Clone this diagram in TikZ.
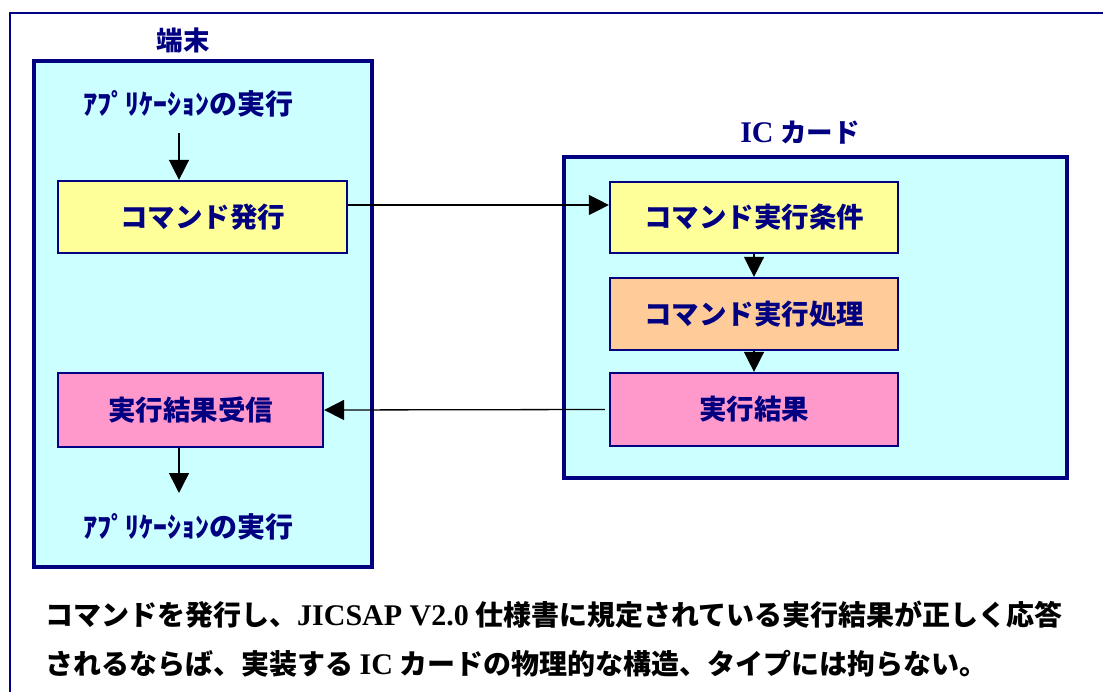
\documentclass[tikz,border=0pt]{standalone}
\usepackage{fontspec}
\setmainfont{Liberation Serif}
\newfontfamily\jp{Noto Sans CJK JP}
\usetikzlibrary{arrows.meta}
\definecolor{navy}{HTML}{000080}
\definecolor{cyanbg}{HTML}{CCFFFF}
\definecolor{yel}{HTML}{FFFF99}
\definecolor{ora}{HTML}{FFCC99}
\definecolor{pnk}{HTML}{FF99CC}
\newcommand{\latn}[1]{{\rmfamily\bfseries\fontsize{30}{30}\selectfont #1}}
\begin{document}
\begin{tikzpicture}[x=1pt,y=-1pt,
  box/.style={draw=navy, line width=2.2pt, text=navy, inner sep=0pt,
    font=\jp\bfseries\fontsize{27.5}{30}\selectfont},
  container/.style={draw=navy, line width=4pt, fill=cyanbg, inner sep=0pt},
  title/.style={text=navy, inner sep=0pt, font=\bfseries\fontsize{26.5}{30}\selectfont},
  app/.style={text=navy, inner sep=0pt, font=\jp\bfseries\fontsize{28}{30}\selectfont},
  note/.style={text=black, inner sep=0pt, anchor=west, font=\jp\bfseries\fontsize{28}{30}\selectfont},
  arr/.style={-{Triangle[length=20pt,width=20pt]}, line width=1.5pt, black}
]
\useasboundingbox (0,0) rectangle (1103,692);
\begin{scope}
\clip (0,0) rectangle (1103,692);
\fill[white] (0,0) rectangle (1103,692);
\draw[navy, line width=2pt] (10,13) rectangle (1130,720);
\end{scope}

% containers
\node[container, minimum width=338pt, minimum height=506pt] (term) at (203,314) {};
\node[container, minimum width=503pt, minimum height=321pt] (card) at (815.5,317.5) {};

% titles
\node[title] (termtitle) at (183,40) {\jp 端末};
\node[title] (cardtitle) at (800,133) {\latn{IC} {\jp カード}};

% application labels
\node[app] (app1) at (188,104) {ｱﾌﾟﾘｹｰｼｮﾝの実行};
\node[app] (app2) at (188,527) {ｱﾌﾟﾘｹｰｼｮﾝの実行};

% terminal boxes
\node[box, fill=yel, minimum width=289pt, minimum height=72pt] (issue) at (202.5,217) {コマンド発行};
\node[box, fill=pnk, minimum width=265pt, minimum height=74pt] (recv) at (190.5,410) {実行結果受信};

% card boxes
\node[box, fill=yel, minimum width=288pt, minimum height=71pt] (cond) at (754,217.5) {コマンド実行条件};
\node[box, fill=ora, minimum width=288pt, minimum height=72pt] (proc) at (754,314) {コマンド実行処理};
\node[box, fill=pnk, minimum width=288pt, minimum height=73pt] (res) at (754,409.5) {実行結果};

% connectors
\coordinate (a1) at (179,133);
\coordinate (a2) at (179,493);
\draw[arr] (a1) -- (a1 |- issue.north);
\draw[arr] (recv.south -| a2) -- (a2);
\draw[arr, line width=1.3pt] (issue.east |- 0,205) -- (cond.west |- 0,205);
\draw[arr] (cond.south) -- (proc.north);
\draw[arr] (proc.south) -- (res.north);
\draw[arr, line width=1.3pt] ([xshift=-4pt]res.west) -- (recv.east);

% note
\node[note] (note1) at (45,615) {コマンドを発行し、\latn{JICSAP V2.0} 仕様書に規定されている実行結果が正しく応答};
\node[note] (note2) at (45,664) {されるならば、実装する \latn{IC} カードの物理的な構造、タイプには拘らない。};
\end{tikzpicture}
\end{document}
